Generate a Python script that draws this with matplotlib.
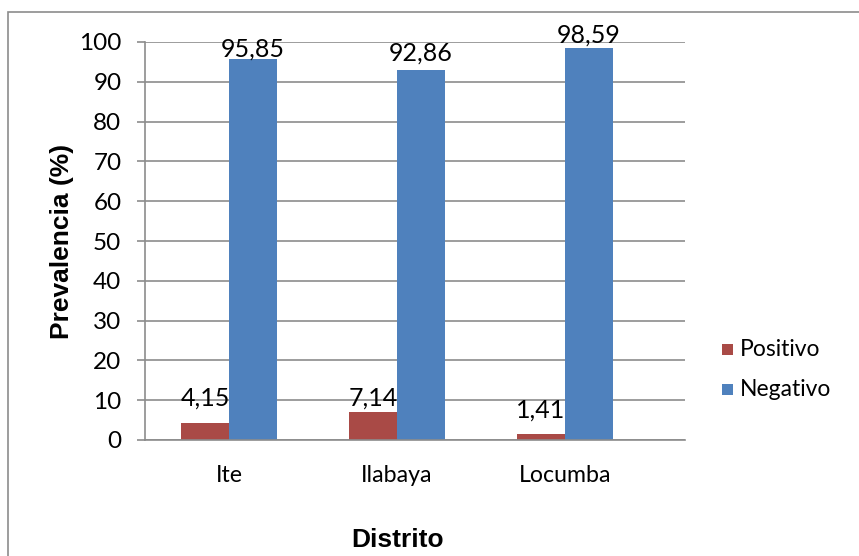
import numpy as np
import matplotlib
matplotlib.use("Agg")
from matplotlib import pyplot as plt
from matplotlib.patches import Rectangle

districts = ["Ite", "Ilabaya", "Locumba"]
positivo = [4.15, 7.14, 1.41]
negativo = [95.85, 92.86, 98.59]
series_names = ["Positivo", "Negativo"]
series_colors = ["#A94A46", "#4F81BD"]
y_ticks = list(range(0, 101, 10))

# label lift above each bar top (pixels), as placed in the original chart
label_lift = [[18, 6, 17], [1.5, 10, 5]]

W, H = 859, 556
fig = plt.figure(figsize=(W / 100, H / 100), dpi=100)

# outer chart border (only top/left visible in the reference)
fig.patches.append(Rectangle((8 / W, -0.5), 2.0, 1.5 - 12 / H, transform=fig.transFigure,
                             fill=False, edgecolor="#8c8c8c", linewidth=1.2))

ax = fig.add_axes([145 / W, 1 - 440 / H, (685 - 145) / W, (440 - 42) / H])

x = np.arange(len(districts))
bw = 48 / 168
tick_font = "Lato"

for i, (vals, col) in enumerate(zip([positivo, negativo], series_colors)):
    pos = x + (i - 0.5) * bw
    ax.bar(pos, vals, width=bw, color=col, zorder=2)
    for p, v, lift in zip(pos, vals, label_lift[i]):
        ax.annotate(f"{v:.2f}".replace(".", ","), xy=(p, v), xytext=(0, lift * 0.72),
                    textcoords="offset points", ha="center", va="baseline",
                    fontsize=18, family=tick_font, color="black", zorder=3)

ax.set_xlim(-0.5, -0.5 + 540 / 168)
ax.set_ylim(0, 100)
ax.set_yticks(y_ticks)
ax.set_yticklabels([str(t) for t in y_ticks], fontsize=17.5, family=tick_font)
ax.set_xticks(x)
ax.set_xticklabels(districts, fontsize=16.7, family=tick_font)
ax.tick_params(axis="x", length=0, pad=18)
ax.tick_params(axis="y", length=6, width=1.2, color="#8c8c8c", pad=11)
ax.yaxis.grid(True, color="#8c8c8c", linewidth=1.2, zorder=1)
ax.set_axisbelow(True)
for s in ["top", "right"]:
    ax.spines[s].set_visible(False)
for s in ["left", "bottom"]:
    ax.spines[s].set_color("#8c8c8c")
    ax.spines[s].set_linewidth(1.2)
    ax.spines[s].set_zorder(4)

fig.text(62 / W, 1 - 241 / H, "Prevalencia (%)", rotation=90, ha="center", va="center",
         fontsize=19, fontweight="bold", family="Liberation Sans")
fig.text(398 / W, 1 - 540 / H, "Distrito", ha="center", va="center",
         fontsize=19, fontweight="bold", family="Liberation Sans")

# legend
for k, (name, col) in enumerate(zip(series_names, series_colors)):
    yc = 349 + 40 * k
    fig.patches.append(Rectangle((722 / W, 1 - (yc + 5.5) / H), 11 / W, 11 / H,
                                 transform=fig.transFigure, facecolor=col, edgecolor="none"))
    fig.text(740 / W, 1 - yc / H, name, ha="left", va="center", fontsize=16.5, family=tick_font)

fig.savefig("out.png", dpi=100)
